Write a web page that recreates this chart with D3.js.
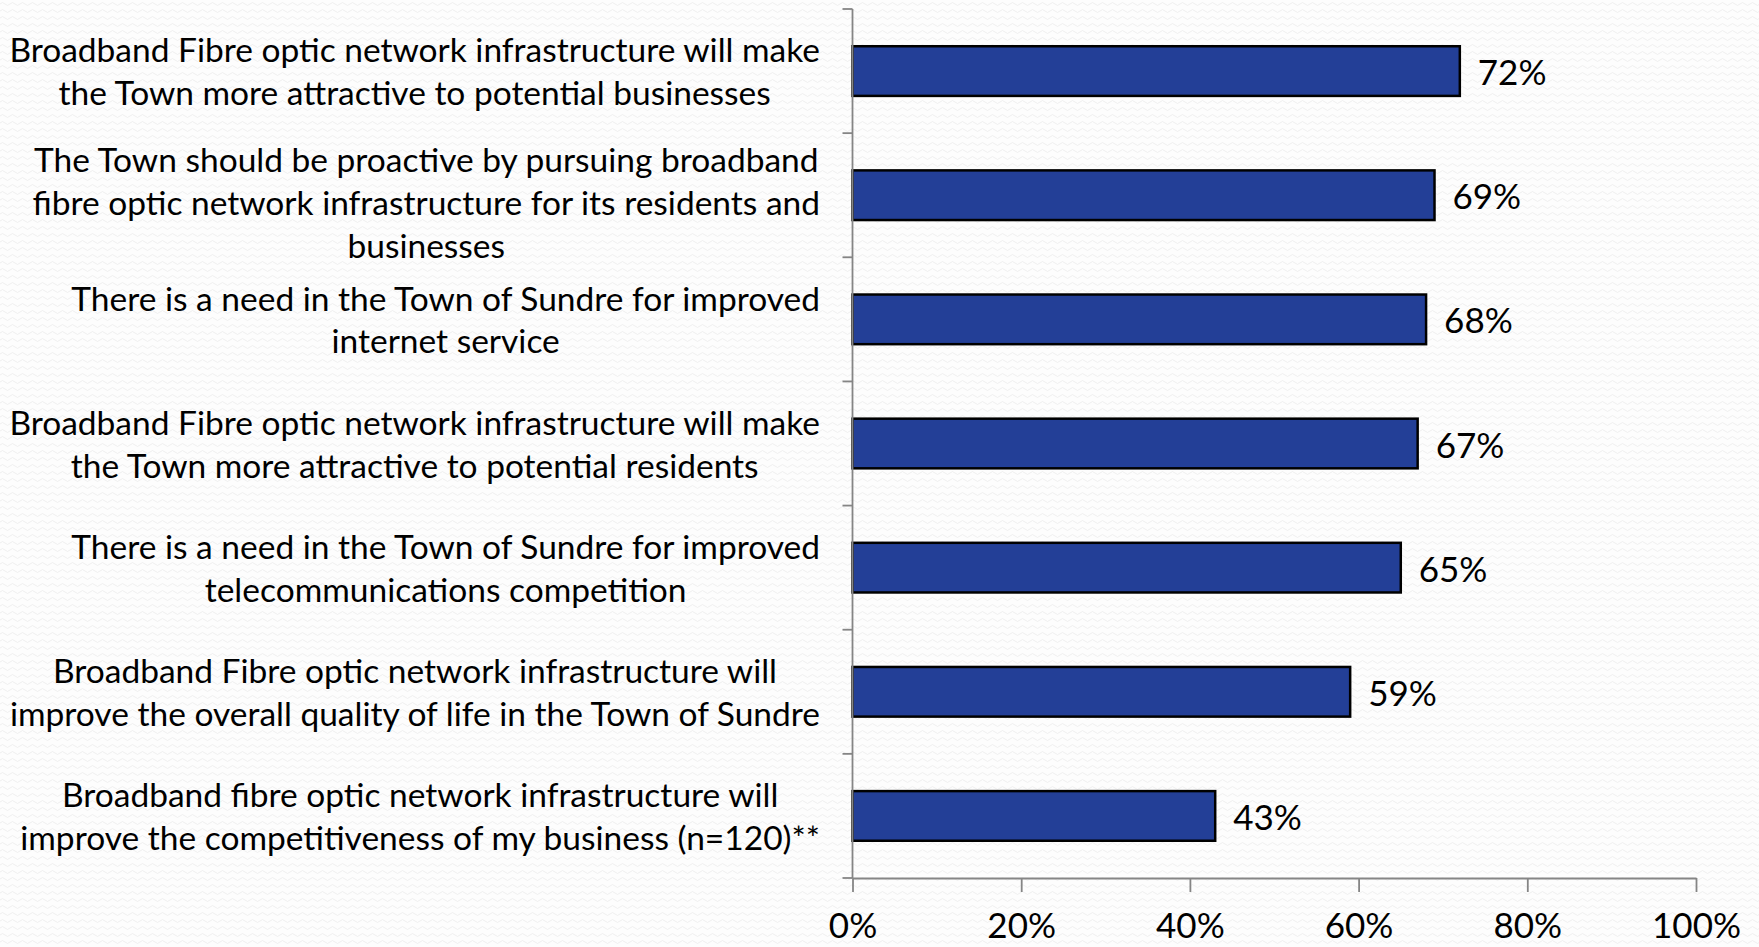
<!DOCTYPE html>
<html>
<head>
<meta charset="utf-8">
<script src="https://cdn.jsdelivr.net/npm/d3@7"></script>
<style>
  html, body { margin: 0; padding: 0; background: #fff; }
  svg { display: block; }
  text { font-family: Lato, "Open Sans", sans-serif; fill: #000; }
</style>
</head>
<body>
<svg id="chart" width="1759" height="947"></svg>
<script>
const categories = [
  ["Broadband Fibre optic network infrastructure will make", "the Town more attractive to potential businesses"],
  ["The Town should be proactive by pursuing broadband", "fibre optic network infrastructure for its residents and", "businesses"],
  ["There is a need in the Town of Sundre for improved", "internet service"],
  ["Broadband Fibre optic network infrastructure will make", "the Town more attractive to potential residents"],
  ["There is a need in the Town of Sundre for improved", "telecommunications competition"],
  ["Broadband Fibre optic network infrastructure will", "improve the overall quality of life in the Town of Sundre"],
  ["Broadband fibre optic network infrastructure will", "improve the competitiveness of my business (n=120)**"]
];
const values = [0.72, 0.69, 0.68, 0.67, 0.65, 0.59, 0.43];
const valueLabels = ["72%", "69%", "68%", "67%", "65%", "59%", "43%"];
const xTicks = [0, 0.2, 0.4, 0.6, 0.8, 1.0];
const xTickLabels = ["0%", "20%", "40%", "60%", "80%", "100%"];

const svg = d3.select("#chart");
const W = 1759, H = 947;

// background texture
const defs = svg.append("defs");
const pat = defs.append("pattern").attr("id", "bg").attr("patternUnits", "userSpaceOnUse")
  .attr("width", 10).attr("height", 7);
pat.append("rect").attr("width", 10).attr("height", 7).attr("fill", "#fdfdfd");
pat.append("path").attr("d", "M0,4 Q2.5,1 5,4 T10,4").attr("fill", "none")
  .attr("stroke", "#ebebeb").attr("stroke-width", 0.8);
svg.append("rect").attr("width", W).attr("height", H).attr("fill", "url(#bg)");

const ids = categories.map((c, i) => i);
const x = d3.scaleLinear().domain([0, 1]).range([852.5, 1696]);
const y = d3.scaleBand().domain(ids).range([9, 878]).paddingInner(0.6).paddingOuter(0.3);

const axisColor = "#858585";
const labelSize = 33.5;
const numSize = 35;

// bars
svg.append("g").selectAll("rect").data(values).join("rect")
  .attr("x", x(0))
  .attr("y", (d, i) => y(i))
  .attr("width", d => x(d) - x(0))
  .attr("height", y.bandwidth())
  .attr("fill", "#233F97")
  .attr("stroke", "#000")
  .attr("stroke-width", 2.5);

// value labels
svg.append("g").selectAll("text").data(values).join("text")
  .attr("x", d => x(d) + 18)
  .attr("y", (d, i) => y(i) + y.bandwidth() / 2)
  .attr("dy", "0.4em")
  .attr("font-size", numSize)
  .text((d, i) => valueLabels[i]);

// y axis line and boundary ticks
const step = y.step();
const y0 = y.range()[0];
svg.append("line").attr("x1", x(0)).attr("x2", x(0)).attr("y1", y0).attr("y2", y.range()[1])
  .attr("stroke", axisColor).attr("stroke-width", 1.8);
svg.append("g").selectAll("line").data(d3.range(categories.length + 1)).join("line")
  .attr("x1", x(0) - 10).attr("x2", x(0))
  .attr("y1", k => y0 + k * step).attr("y2", k => y0 + k * step)
  .attr("stroke", axisColor).attr("stroke-width", 1.8);

// x axis
const xAxis = d3.axisBottom(x).tickValues(xTicks).tickSize(14).tickSizeOuter(0)
  .tickFormat((d, i) => xTickLabels[i]);
const gx = svg.append("g").attr("transform", `translate(0,${y.range()[1]})`).call(xAxis);
gx.select(".domain").attr("stroke", axisColor).attr("stroke-width", 1.8);
gx.selectAll(".tick line").attr("stroke", axisColor).attr("stroke-width", 1.8);
gx.selectAll(".tick text").attr("font-size", numSize).attr("font-family", "Lato, sans-serif")
  .attr("fill", "#000").attr("y", 47).attr("dy", "0.38em");

// category labels (lines centered within a right-aligned block)
const rightEdge = 820;
const lineGap = 42.8;
const lg = svg.append("g");
categories.forEach((lines, i) => {
  const cy = y(i) + y.bandwidth() / 2 + (lines.length > 2 ? 7 : 0);
  const g = lg.append("g");
  const ts = lines.map((t, j) => g.append("text")
    .attr("font-size", labelSize)
    .attr("text-anchor", "middle")
    .attr("y", cy + (j - (lines.length - 1) / 2) * lineGap)
    .attr("dy", "0.38em")
    .text(t));
  const maxW = d3.max(ts, t => t.node().getComputedTextLength());
  ts.forEach(t => t.attr("x", rightEdge - maxW / 2));
});
</script>
</body>
</html>
